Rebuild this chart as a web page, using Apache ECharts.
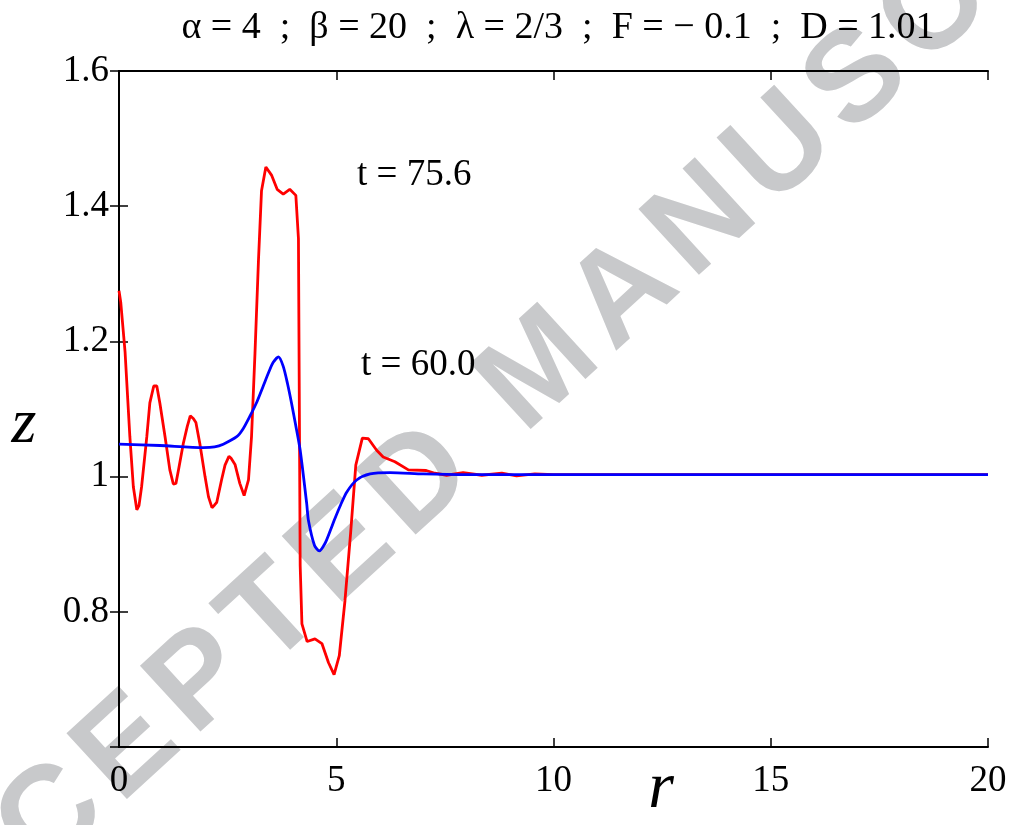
<!DOCTYPE html>
<html>
<head>
<meta charset="utf-8">
<script src="https://cdn.jsdelivr.net/npm/echarts@6/dist/echarts.min.js"></script>
<style>
html,body{margin:0;padding:0;background:#fff;}
#main{width:1013px;height:825px;}
</style>
</head>
<body>
<div id="main"></div>
<script>
// ---- data ----
const rRed = [0, 0.04, 0.14, 0.25, 0.33, 0.41, 0.46, 0.52, 0.64, 0.71, 0.80, 0.87, 0.94, 1.06, 1.17, 1.25, 1.31, 1.37, 1.48, 1.57, 1.64, 1.71, 1.77, 1.86, 1.98, 2.06, 2.14, 2.20, 2.25, 2.36, 2.44, 2.53, 2.58, 2.67, 2.78, 2.88, 2.98, 3.05, 3.13, 3.21, 3.28, 3.38, 3.51, 3.64, 3.78, 3.93, 4.07, 4.13, 4.17, 4.21, 4.33, 4.51, 4.67, 4.82, 4.95, 5.07, 5.20, 5.33, 5.45, 5.60, 5.74, 5.93, 6.08, 6.35, 6.66, 7.07, 7.27, 7.54, 7.92, 8.35, 8.81, 9.15, 9.57, 10.0, 12.0, 14.0, 16.0, 18.0, 20.0];
const zRed = [1.275, 1.258, 1.184, 1.059, 0.985, 0.951, 0.957, 0.985, 1.059, 1.109, 1.134, 1.134, 1.109, 1.059, 1.010, 0.989, 0.990, 1.010, 1.049, 1.074, 1.090, 1.086, 1.080, 1.049, 1.000, 0.970, 0.954, 0.958, 0.962, 0.995, 1.017, 1.030, 1.027, 1.018, 0.990, 0.972, 0.995, 1.059, 1.183, 1.320, 1.423, 1.458, 1.446, 1.425, 1.418, 1.425, 1.416, 1.352, 0.868, 0.782, 0.756, 0.760, 0.753, 0.725, 0.707, 0.735, 0.816, 0.916, 1.017, 1.057, 1.056, 1.039, 1.029, 1.022, 1.010, 1.009, 1.005, 1.002, 1.006, 1.002, 1.005, 1.001, 1.004, 1.003, 1.003, 1.003, 1.003, 1.003, 1.003];

const rBlue = [0, 0.94, 1.94, 2.20, 2.40, 2.71, 2.85, 3.01, 3.17, 3.32, 3.45, 3.55, 3.67, 3.78, 3.88, 3.97, 4.07, 4.17, 4.32, 4.36, 4.50, 4.61, 4.74, 4.85, 4.97, 5.10, 5.24, 5.47, 5.78, 6.24, 7.0, 8.0, 20.0];
const zBlue = [1.048, 1.046, 1.043, 1.044, 1.048, 1.059, 1.070, 1.089, 1.110, 1.134, 1.155, 1.169, 1.177, 1.163, 1.137, 1.109, 1.075, 1.039, 0.960, 0.935, 0.898, 0.890, 0.901, 0.918, 0.938, 0.958, 0.977, 0.995, 1.004, 1.006, 1.004, 1.003, 1.003];

const xTicks = [0, 5, 10, 15, 20];
const yTickLabels = {0.6: '', 0.8: '0.8', 1: '1', 1.2: '1.2', 1.4: '1.4', 1.6: '1.6'};
const titleText = 'α = 4  ;  β = 20  ;  λ = 2/3  ;  F = − 0.1  ;  D = 1.01';
const labelRed = 't = 75.6';
const labelBlue = 't = 60.0';
const watermark = 'ACCEPTED MANUSCRIPT';

const pairs = (xs, ys) => xs.map((x, i) => [x, ys[i]]);
const SERIF = '"Liberation Serif", "Times New Roman", serif';

// ---- watermark letters laid out along a slanted line ----
const WM_FONT = 'bold 130px "Liberation Sans", Arial, sans-serif';
const WM_TRACK = 13, WM_ANGLE = 42.5 * Math.PI / 180, WM_ANCHOR = [540, 372];
function watermarkGraphics() {
  const ctx = document.createElement('canvas').getContext('2d');
  ctx.font = WM_FONT;
  const chars = watermark.split('');
  const widths = chars.map(c => ctx.measureText(c).width);
  const centers = [];
  let s = 0;
  chars.forEach((c, i) => { centers.push(s + widths[i] / 2); s += widths[i] + WM_TRACK; });
  const mIdx = watermark.indexOf('M');
  const off = centers[mIdx];
  const ux = Math.cos(WM_ANGLE), uy = -Math.sin(WM_ANGLE);
  return chars.map((c, i) => ({
    type: 'text', z: -10, silent: true,
    x: WM_ANCHOR[0] + (centers[i] - off) * ux,
    y: WM_ANCHOR[1] + (centers[i] - off) * uy,
    rotation: WM_ANGLE,
    style: {text: c, x: 0, y: 0, align: 'center', verticalAlign: 'middle', font: WM_FONT, fill: '#c8c9cb'}
  }));
}

const chart = echarts.init(document.getElementById('main'), null, {renderer: 'canvas'});

const axisCommon = {
  axisLine: {show: true, lineStyle: {color: '#000', width: 2}},
  axisTick: {show: true, inside: true, length: 9, lineStyle: {color: '#000', width: 1.5}},
  splitLine: {show: false}
};

chart.setOption({
  backgroundColor: '#fff',
  animation: false,
  title: {
    text: titleText,
    left: 553, top: 4, textAlign: 'center',
    textStyle: {fontFamily: SERIF, fontSize: 38, fontWeight: 'normal', color: '#000'}
  },
  grid: {left: 119, right: 25, top: 71, bottom: 78, containLabel: false},
  xAxis: [
    Object.assign({
      type: 'value', min: 0, max: 20, interval: 5, position: 'bottom',
      axisLabel: {fontFamily: SERIF, fontSize: 37, color: '#000', margin: 16,
        formatter: v => (xTicks.indexOf(v) >= 0 ? String(v) : '')}
    }, axisCommon),
    Object.assign({
      type: 'value', min: 0, max: 20, interval: 5, position: 'top',
      axisLabel: {show: false}
    }, axisCommon)
  ],
  yAxis: [
    Object.assign({
      type: 'value', min: 0.6, max: 1.6, interval: 0.2, position: 'left',
      axisLabel: {fontFamily: SERIF, fontSize: 37, color: '#000', margin: 10,
        formatter: v => {
          const k = Math.round(v * 10) / 10;
          return yTickLabels[k] !== undefined ? yTickLabels[k] : '';
        }}
    }, axisCommon),
    Object.assign({
      type: 'value', min: 0.6, max: 1.6, interval: 0.2, position: 'right',
      axisLabel: {show: false}
    }, axisCommon)
  ],
  series: [
    {type: 'line', name: labelRed, data: pairs(rRed, zRed), showSymbol: false, smooth: false,
      lineStyle: {color: '#ff0000', width: 2.8}, itemStyle: {color: '#ff0000'}, z: 3},
    {type: 'line', name: labelBlue, data: pairs(rBlue, zBlue), showSymbol: false, smooth: 0.25,
      lineStyle: {color: '#0000ff', width: 2.8}, itemStyle: {color: '#0000ff'}, z: 4}
  ],
  graphic: watermarkGraphics().concat([
    {type: 'text', x: 357, y: 175, silent: true,
      style: {text: labelRed, verticalAlign: 'middle', font: '37px ' + SERIF, fill: '#000'}},
    {type: 'text', x: 361, y: 365, silent: true,
      style: {text: labelBlue, verticalAlign: 'middle', font: '37px ' + SERIF, fill: '#000'}},
    {type: 'text', x: 24, y: 425, silent: true,
      style: {text: 'z', align: 'center', verticalAlign: 'middle', font: 'italic 64px ' + SERIF, fill: '#000'}},
    {type: 'text', x: 661, y: 790, silent: true,
      style: {text: 'r', align: 'center', verticalAlign: 'middle', font: 'italic 66px ' + SERIF, fill: '#000'}}
  ])
});
</script>
</body>
</html>
